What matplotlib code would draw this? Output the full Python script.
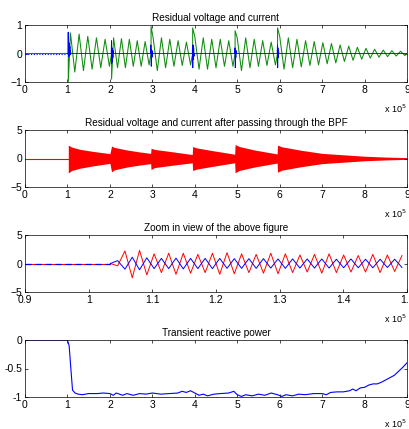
import numpy as np
import matplotlib
matplotlib.use("Agg")
import matplotlib.pyplot as plt

plt.rcParams["font.family"] = ["Liberation Sans", "DejaVu Sans"]

# ---- data ----
# panel 1: residual voltage (green) and current (blue), x in units of 1e5
events = [1.02, 2.04, 2.97, 3.95, 4.95, 5.95]
green_spike = [-1.0, -0.9, 0.95, 0.9, 0.8, 0.9]
green_peaks = [
    [0.72, -0.65, 0.68, -0.6, 0.6, -0.55, 0.55, -0.5, 0.5, -0.45],
    [0.55, -0.5, 0.52, -0.5, 0.5, -0.45, 0.45, -0.45, 0.42, -0.4],
    [0.55, -0.6, 0.55, -0.5, 0.5, -0.45, 0.45, -0.42, 0.4, -0.4],
    [0.6, -0.55, 0.55, -0.55, 0.5, -0.5, 0.5, -0.45, 0.45, -0.45],
    [0.55, -0.6, 0.55, -0.5, 0.5, -0.45, 0.45, -0.42, 0.4, -0.4],
    [0.6, -0.55, 0.55, -0.5, 0.5, -0.47, 0.45, -0.42, 0.42, -0.4,
     0.38, -0.36, 0.35, -0.33, 0.3, -0.28, 0.26, -0.24, 0.22, -0.2,
     0.18, -0.16, 0.15, -0.13, 0.12, -0.11, 0.1, -0.09, 0.08, -0.07],
]
blue_bursts = [
    [0, 0.75, -0.1, 0.4, -0.1, 0.35, -0.05, 0.25, -0.05, 0.1, 0],
    [0, 0.45, -0.35, 0.2, -0.3, 0.15, -0.15, 0.1, 0],
    [0, 0.3, -0.45, 0.15, -0.15, 0.1, -0.1, 0],
    [0, 0.3, -0.5, 0.3, -0.2, 0.2, -0.1, 0],
    [0, 0.2, -0.5, 0.15, -0.15, 0.1, 0],
    [0, 0.3, -0.5, 0.2, -0.15, 0.1, 0],
]

# panel 2: envelope of the band-pass filtered signal (t, top, bottom)
bpf_t = [1.02, 1.1, 1.3, 1.6, 2.0,
         2.04, 2.1, 2.4, 2.7, 2.96,
         2.97, 3.05, 3.4, 3.94,
         3.95, 4.05, 4.4, 4.94,
         4.95, 5.05, 5.4, 5.94,
         5.95, 6.05, 6.5, 7.0, 7.5, 8.0, 8.5, 9.0]
bpf_top = [2.35, 2.0, 1.6, 1.25, 0.85,
           2.2, 1.95, 1.5, 1.15, 0.9,
           1.8, 1.6, 1.25, 0.7,
           2.1, 1.85, 1.4, 0.75,
           2.45, 2.1, 1.5, 0.8,
           2.35, 2.05, 1.45, 0.9, 0.65, 0.4, 0.25, 0.15]
bpf_bot = [-2.55, -2.1, -1.7, -1.3, -0.85,
           -2.35, -2.0, -1.5, -1.15, -0.9,
           -1.95, -1.6, -1.25, -0.75,
           -2.1, -1.85, -1.4, -0.75,
           -2.5, -2.1, -1.5, -0.8,
           -2.4, -2.05, -1.45, -0.9, -0.65, -0.4, -0.25, -0.15]

# panel 3: zoomed waveform, half-cycle extremes from onset
zoom_onset = 1.0341
zoom_half = 0.01145
red_peaks = [0.0, -0.4, 2.2, -2.5, 2.3, -2.0, 1.7, -1.6, 1.8, -1.9,
             1.8, -1.7, 1.6, -1.6, 1.8, -1.9, 1.9, -1.8, 1.7, -1.6,
             1.6, -1.7, 1.8, -1.8, 1.7, -1.6, 1.5, -1.5, 1.6, -1.7,
             1.7, -1.6, 1.5, -1.5, 1.4, -1.5, 1.6, -1.6, 1.5, -1.4, 1.4]
blue_peaks = [0.0, 0.5, -1.0, 1.1, -1.1, 1.0, -0.9, 0.9, -0.9, 0.95,
              -0.95, 0.9, -0.9, 0.9, -0.9, 0.9, -0.85, 0.85, -0.85, 0.85,
              -0.85, 0.85, -0.8, 0.8, -0.85, 0.8, -0.8, 0.8, -0.8, 0.8,
              -0.8, 0.75, -0.75, 0.8, -0.75, 0.75, -0.75, 0.75, -0.7, 0.75, -0.7]

# panel 4: transient reactive power
q_t = [0, 1.0, 1.04, 1.08, 1.12, 1.18, 1.25, 1.35, 1.5, 1.7, 1.85, 2.0, 2.08,
       2.15, 2.3, 2.4, 2.55, 2.7, 2.85, 3.0, 3.2, 3.4, 3.6, 3.7, 3.8, 3.9,
       4.0, 4.1, 4.2, 4.3, 4.45, 4.6, 4.8, 4.92, 5.0, 5.1, 5.2, 5.35, 5.5,
       5.65, 5.8, 5.95, 6.05, 6.15, 6.3, 6.45, 6.6, 6.8, 7.0, 7.1, 7.2, 7.35,
       7.5, 7.65, 7.72, 7.8, 7.9, 8.0, 8.1, 8.2, 8.3, 8.4, 8.5, 8.6, 8.7, 8.8,
       8.9, 9.0]
q_val = [0, 0, -0.1, -0.5, -0.88, -0.93, -0.95, -0.96, -0.94, -0.94, -0.93,
         -0.94, -0.97, -0.93, -0.97, -0.94, -0.97, -0.94, -0.95, -0.93, -0.95,
         -0.94, -0.93, -0.9, -0.92, -0.89, -0.93, -0.97, -0.95, -0.98, -0.95,
         -0.94, -0.93, -0.9, -0.96, -0.99, -0.96, -0.98, -0.95, -0.97, -0.93,
         -0.96, -0.99, -0.96, -0.98, -0.95, -0.96, -0.94, -0.94, -0.96, -0.92,
         -0.91, -0.91, -0.89, -0.86, -0.89, -0.84, -0.83, -0.79, -0.77, -0.77,
         -0.74, -0.7, -0.66, -0.62, -0.55, -0.48, -0.4]

# ---- build polylines ----
gx, gy = [0.0], [0.0]
bounds = events + [9.0]
for i, te in enumerate(events):
    pk = green_peaks[i]
    dt = (bounds[i + 1] - te) / len(pk)
    gx += [te, te]
    gy += [0.0, green_spike[i]]
    gx += [te + (k + 0.5) * dt for k in range(len(pk))]
    gy += pk
gx.append(9.0)
gy.append(0.0)

bx, by = [1.0], [0.0]
for i, te in enumerate(events):
    b = blue_bursts[i]
    bx += [te - 0.01 + 0.007 * k for k in range(len(b))]
    by += b
bx.append(9.0)
by.append(0.0)

rx = [zoom_onset + zoom_half * k for k in range(len(red_peaks))]
blx = [zoom_onset + zoom_half * k for k in range(len(blue_peaks))]

# ---- figure ----
fig = plt.figure(figsize=(4.09, 4.29), dpi=100)
L, W, H = 25 / 409, 382 / 409, 57 / 429
tops = [25, 130, 235, 340]
axes = [fig.add_axes([L, 1 - (t + 57) / 429, W, H]) for t in tops]

GREEN = (0.05, 0.55, 0.05)

ax = axes[0]
ax.plot(gx, gy, color=GREEN, lw=0.75)
ax.plot([0, 1.0], [0, 0], color="b", lw=0.8, ls=(0, (1, 1.5)))
ax.plot(bx, by, color="b", lw=0.6)
ax.set_xlim(0, 9)
ax.set_ylim(-1, 1)
ax.set_yticks([-1, 0, 1])
ax.set_title("Residual voltage and current")

ax = axes[1]
ax.plot([0, 1.02], [0, 0], color="r", lw=0.8)
ax.fill_between(bpf_t, bpf_bot, bpf_top, color="r", lw=0)
ax.set_xlim(0, 9)
ax.set_ylim(-5, 5)
ax.set_yticks([-5, 0, 5])
ax.set_title("Residual voltage and current after passing through the BPF")

ax = axes[2]
ax.plot([0.9, zoom_onset], [0, 0], color="r", lw=0.8)
ax.plot([0.9, zoom_onset], [0, 0], color="b", lw=0.9, ls=(0, (5, 3)))
ax.plot(rx, red_peaks, color="r", lw=0.7)
ax.plot(blx, blue_peaks, color="b", lw=0.7)
ax.set_xlim(0.9, 1.5)
ax.set_ylim(-5, 5)
ax.set_xticks([0.9, 1.0, 1.1, 1.2, 1.3, 1.4, 1.5])
ax.set_xticklabels(["0.9", "1", "1.1", "1.2", "1.3", "1.4", "1.5"])
ax.set_yticks([-5, 0, 5])
ax.set_title("Zoom in view of the above figure")

ax = axes[3]
ax.plot(q_t, q_val, color="b", lw=0.8)
ax.set_xlim(0, 9)
ax.set_ylim(-1, 0)
ax.set_yticks([-1, -0.5, 0])
ax.set_yticklabels(["-1", "-0.5", "0"])
ax.set_title("Transient reactive power")

for ax in axes:
    if ax is not axes[2]:
        ax.set_xticks(range(10))
    ax.tick_params(direction="in", top=True, right=True, length=2.5,
                   width=0.5, labelsize=7.5, pad=2)
    ax.set_title(ax.get_title(), fontsize=7.2, pad=3)
    for s in ax.spines.values():
        s.set_linewidth(0.5)
    ax.text(1.0, -0.36, r"x 10$^5$", transform=ax.transAxes, ha="right",
            va="top", fontsize=6.5)

fig.savefig("out.png", dpi=100)
